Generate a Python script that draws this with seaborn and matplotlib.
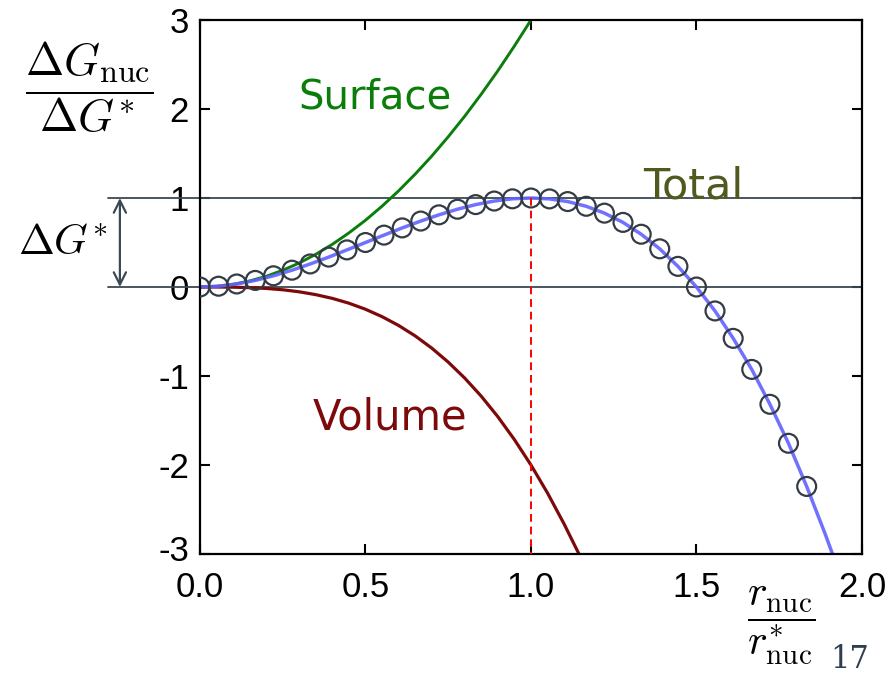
import numpy as np
import matplotlib
matplotlib.use("Agg")
import matplotlib.pyplot as plt
import matplotlib.transforms as mtransforms
import seaborn as sns

# values (r / r*, dG / dG*)
circle_r = [0.000, 0.056, 0.111, 0.167, 0.222, 0.278, 0.333, 0.389, 0.444, 0.500,
            0.556, 0.611, 0.667, 0.722, 0.778, 0.833, 0.889, 0.944, 1.000, 1.056,
            1.111, 1.167, 1.222, 1.278, 1.333, 1.389, 1.444, 1.500, 1.556, 1.611,
            1.667, 1.722, 1.778, 1.833]
circle_g = [0.000, 0.009, 0.034, 0.074, 0.126, 0.189, 0.259, 0.336, 0.417, 0.500,
            0.583, 0.664, 0.741, 0.811, 0.874, 0.926, 0.966, 0.991, 1.000, 0.990,
            0.960, 0.907, 0.830, 0.726, 0.593, 0.429, 0.232, 0.000, -0.269, -0.577,
            -0.926, -1.318, -1.756, -2.241]

total_r = circle_r + [1.889, 1.911]
total_g = circle_g + [-2.776, -3.000]

surface_r = [0.00, 0.05, 0.10, 0.15, 0.20, 0.25, 0.30, 0.35, 0.40, 0.45, 0.50,
             0.55, 0.60, 0.65, 0.70, 0.75, 0.80, 0.85, 0.90, 0.95, 1.00]
surface_g = [0.000, 0.008, 0.030, 0.068, 0.120, 0.188, 0.270, 0.368, 0.480, 0.608, 0.750,
             0.908, 1.080, 1.268, 1.470, 1.688, 1.920, 2.168, 2.430, 2.708, 3.000]

volume_r = [0.00, 0.05, 0.10, 0.15, 0.20, 0.25, 0.30, 0.35, 0.40, 0.45, 0.50, 0.55,
            0.60, 0.65, 0.70, 0.75, 0.80, 0.85, 0.90, 0.95, 1.00, 1.05, 1.10, 1.145]
volume_g = [0.000, 0.000, -0.002, -0.007, -0.016, -0.031, -0.054, -0.086, -0.128,
            -0.182, -0.250, -0.333, -0.432, -0.549, -0.686, -0.844, -1.024, -1.228,
            -1.458, -1.715, -2.000, -2.315, -2.662, -3.000]

x_ticks = [0.0, 0.5, 1.0, 1.5, 2.0]
y_ticks = [-3, -2, -1, 0, 1, 2, 3]

sns.set_theme(style="ticks")
plt.rcParams["font.family"] = ["Liberation Sans", "DejaVu Sans"]
plt.rcParams["mathtext.fontset"] = "cm"

fig = plt.figure(figsize=(8.96, 6.81), dpi=100)
ax = fig.add_axes([0.2232, 0.1865, 0.7388, 0.7841])

slate = "#3b4952"

# reference lines at 0 and dG*
for level in [0, 1]:
    ax.axhline(level, xmin=-0.139, xmax=1, color=slate, lw=1.3, clip_on=False, zorder=1)

sns.lineplot(x=surface_r, y=surface_g, ax=ax, color="#0a7d0a", lw=2.1, sort=False)
sns.lineplot(x=volume_r, y=volume_g, ax=ax, color="#7d0a0a", lw=2.3, sort=False)
sns.lineplot(x=total_r, y=total_g, ax=ax, color="#6262ff", lw=2.5, alpha=0.9, sort=False)
sns.scatterplot(x=circle_r, y=circle_g, ax=ax, s=185, facecolor="none",
                edgecolor="#333c44", linewidth=1.6, zorder=5)

# critical radius marker
ax.plot([1.0, 1.0], [1.0, -3.0], color="red", lw=1.4, ls=(0, (4, 2.5)), zorder=3)

ax.set_xlim(0, 2)
ax.set_ylim(-3, 3)
ax.set_xticks(x_ticks)
ax.set_xticklabels(["0.0", "0.5", "1.0", "1.5", "2.0"])
ax.set_yticks(y_ticks)
ax.set_yticklabels([str(v) for v in y_ticks])
ax.tick_params(direction="in", length=7, width=1.5, top=True, right=True,
               labelsize=25, colors="black")
ax.tick_params(axis="x", pad=12)
ax.tick_params(axis="y", pad=8)
for sp in ax.spines.values():
    sp.set_visible(True)
    sp.set_linewidth(1.6)
    sp.set_color("black")

# lift the bottom y label a touch so it clears the first x label
fig.canvas.draw()
lowest = ax.get_yticklabels()[0]
lowest.set_transform(lowest.get_transform() +
                     mtransforms.ScaledTranslation(0, 4 / 72, fig.dpi_scale_trans))

# curve labels
ax.text(0.53, 2.13, "Surface", color="#0a7d0a", fontsize=29, ha="center", va="center",
        family="DejaVu Sans")
ax.text(0.575, -1.47, "Volume", color="#7d0a0a", fontsize=30, ha="center", va="center",
        family="DejaVu Sans")
ax.text(1.49, 1.13, "Total", color="#4e5a1e", fontsize=31, ha="center", va="center",
        family="DejaVu Sans")

# dG* arrow
ax.annotate("", xy=(-0.121, 1.0), xytext=(-0.121, 0.0),
            xycoords=("axes fraction", "data"), textcoords=("axes fraction", "data"),
            arrowprops=dict(arrowstyle="<->", color=slate, lw=1.6,
                            shrinkA=0, shrinkB=0, mutation_scale=22))
ax.text(-0.207, 0.49, r"$\Delta G^{*}$", transform=ax.get_yaxis_transform(),
        fontsize=31, ha="center", va="center", color="black")

# axis labels as fractions
fig.text(89 / 896, 1 - 87 / 681, r"$\dfrac{\Delta G_{\rm nuc}}{\Delta G^{*}}$",
         fontsize=33, ha="center", va="center", color="black")
fig.text(781 / 896, 1 - 626 / 681, r"$\dfrac{r_{\rm nuc}}{r^{*}_{\rm nuc}}$",
         fontsize=30, ha="center", va="center", color="black")
fig.text(850 / 896, 1 - 660 / 681, "17", fontsize=22, ha="center", va="center",
         color="#2f3f4f", family="DejaVu Serif")

fig.savefig("out.png", dpi=100)
